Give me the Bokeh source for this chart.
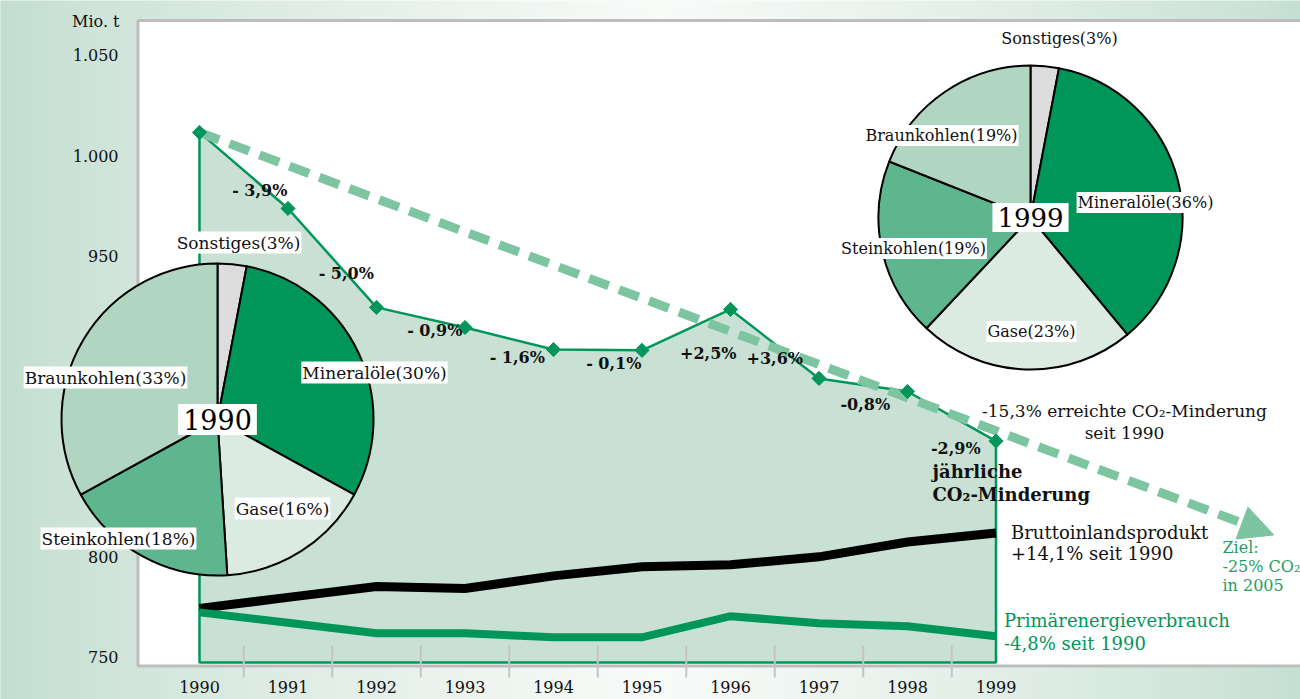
import numpy as np
from bokeh.plotting import figure
from bokeh.models import Range1d, Arrow, NormalHead
from bokeh.core.properties import value
from bokeh.embed import file_html
from bokeh.resources import INLINE

# ---------------- data ----------------
years = [1990, 1991, 1992, 1993, 1994, 1995, 1996, 1997, 1998, 1999]
co2 = [1011.6, 973.7, 924.4, 914.4, 903.4, 903.0, 923.4, 889.0, 882.5, 857.8]
gdp = [774.4, 779.9, 785.3, 784.3, 790.6, 795.1, 796.1, 800.1, 807.5, 812.0]
pev = [772.4, 767.2, 762.0, 762.0, 760.0, 760.0, 770.5, 767.0, 765.5, 760.5]
change_labels = ["- 3,9%", "- 5,0%", "- 0,9%", "- 1,6%", "- 0,1%",
                 "+2,5%", "+3,6%", "-0,8%", "-2,9%"]
y_ticks = [750, 800, 850, 900, 950, 1000, 1050]
y_tick_labels = ["750", "800", "850", "900", "950", "1.000", "1.050"]
year_labels = [str(y) for y in years]
pie_categories = ["Sonstiges", "Mineralöle", "Gase", "Steinkohlen", "Braunkohlen"]
shares_1990 = [3, 30, 16, 18, 33]
shares_1999 = [3, 36, 23, 19, 19]
target_tip = [2002.14, 811.0]   # tip of the "Ziel" arrow

# ---------------- layout helpers (picture pixels -> data) ----------------
PX_YEAR = 88.5
PX_1990 = 199.0
PX_UNIT = 2.0066
PY_ZERO = 2161.8
W, H = 1300, 699


def X(px):
    return 1990 + (px - PX_1990) / PX_YEAR


def Y(py):
    return (PY_ZERO - py) / PX_UNIT


def PXof(x):
    return PX_1990 + (x - 1990) * PX_YEAR


def PYof(y):
    return PY_ZERO - y * PX_UNIT


FONT = value("DejaVu Serif")
DARK_GREEN = "#00965a"
TXT = "#111111"

p = figure(width=W, height=H, output_backend="svg", toolbar_location=None,
           x_range=Range1d(X(0), X(W)), y_range=Range1d(Y(H), Y(0)),
           x_axis_type=None, y_axis_type=None, min_border=0,
           outline_line_color=None, background_fill_color="white",
           border_fill_color="white")
p.grid.visible = False

# ---------------- background gradient ----------------
green = np.array([194, 221, 208])
white = np.array([249, 251, 249])
n = 130
edges = np.linspace(0, W, n + 1)
lefts, rights, cols = [], [], []
for i in range(n):
    xc = 0.5 * (edges[i] + edges[i + 1])
    t = max(0.0, 1 - abs(xc - 660) / 660) ** 0.8
    c = green + (white - green) * t
    lefts.append(X(edges[i]))
    rights.append(X(edges[i + 1]))
    cols.append("#%02x%02x%02x" % tuple(int(round(v)) for v in c))
p.quad(left=lefts, right=rights, top=Y(-10), bottom=Y(H + 20), fill_color=cols,
       line_color=cols, line_width=1)

# plot frame
p.quad(left=X(137.5), right=X(W + 20), top=Y(20), bottom=Y(665.5),
       fill_color="white", line_color="#bdbdbd", line_width=3)

# y tick labels
p.text(x=[X(118)] * len(y_ticks), y=y_ticks, text=y_tick_labels,
       text_align="right", text_baseline="middle", text_font=FONT,
       text_font_size="16px", text_color=TXT)
p.text(x=[X(119)], y=[Y(21)], text=["Mio. t"], text_align="right",
       text_baseline="middle", text_font=FONT, text_font_size="16px", text_color=TXT)

# ---------------- CO2 area ----------------
base = Y(662)
p.patch([years[0]] + years + [years[-1]], [base] + co2 + [base],
        fill_color="#c8e1d4", line_color=DARK_GREEN, line_width=2.5)

# half-year ticks
half = [y + 0.5 for y in years[:-1]]
p.segment(x0=half, x1=half, y0=[Y(645)] * len(half), y1=[Y(677)] * len(half),
          line_color="#c4c4c4", line_width=2)

# GDP and primary energy lines
p.line(years, gdp, line_color="black", line_width=9, line_join="miter")
p.line(years, pev, line_color=DARK_GREEN, line_width=8, line_join="miter")

# ---------------- pies ----------------
pie_colors = ["#dcdcdc", DARK_GREEN, "#dcebe1", "#5eb68f", "#b0d6c1"]


def draw_pie(cx, cy, r, shares, label_pos, fsize, year_text, year_size):
    cum = np.cumsum([0] + shares) / 100.0
    start = np.pi / 2 - 2 * np.pi * cum[:-1]
    end = np.pi / 2 - 2 * np.pi * cum[1:]
    p.wedge(x=[X(cx)] * len(shares), y=[Y(cy)] * len(shares), radius=r,
            radius_units="screen", start_angle=list(start), end_angle=list(end),
            direction="clock", fill_color=pie_colors, line_color="black",
            line_width=2)
    texts = ["%s(%d%%)" % (c, s) for c, s in zip(pie_categories, shares)]
    p.text(x=[X(cx + dx) for dx, dy in label_pos], y=[Y(cy + dy) for dx, dy in label_pos],
           text=texts, text_align="center", text_baseline="middle",
           text_font=FONT, text_font_size=fsize, text_color=TXT,
           background_fill_color="white", padding=1)
    p.text(x=[X(cx)], y=[Y(cy)], text=[year_text], text_align="center",
           text_baseline="middle", text_font=FONT, text_font_size=year_size,
           text_color="black", background_fill_color="white", padding=5)


# label offsets (px) from pie centre for: Sonstiges, Mineralöle, Gase, Steinkohlen, Braunkohlen
draw_pie(217, 419, 156, shares_1990,
         [(21, -177), (157, -47), (65, 89), (-99, 119), (-112, -42)],
         "17px", "1990", "27px")
draw_pie(1030, 217, 152, shares_1999,
         [(29, -179), (115, -15), (1, 114), (-117, 31), (-89, -82)],
         "16px", "1999", "26px")

# ---------------- target arrow ----------------
sx, sy = PXof(years[0]), PYof(co2[0])
tx, ty = PXof(target_tip[0]), PYof(target_tip[1])
d = np.hypot(tx - sx, ty - sy)
ux, uy = (tx - sx) / d, (ty - sy) / d
bx, by = tx - 32 * ux, ty - 32 * uy
ARROW = "#7dc4a0"
p.line([years[0], X(bx)], [co2[0], Y(by)], line_color=ARROW, line_width=9,
       line_dash="21 11")
p.add_layout(Arrow(end=NormalHead(size=34, fill_color=ARROW, line_color=ARROW, line_width=1),
                   x_start=X(bx), y_start=Y(by), x_end=target_tip[0], y_end=target_tip[1],
                   line_alpha=0))

# markers
p.scatter(years, co2, marker="square", size=10, angle=np.pi / 4,
          fill_color=DARK_GREEN, line_color=DARK_GREEN)

# ---------------- yearly change labels ----------------
label_dx = [16, 14, 14, 8, 16, 22, 0, 2, 4]
label_dy = [20, 16, 13, 19, 14, 24, 15, 20, 32]
lx, ly = [], []
for k in range(len(change_labels)):
    mx = 0.5 * (PXof(years[k]) + PXof(years[k + 1]))
    my = 0.5 * (PYof(co2[k]) + PYof(co2[k + 1]))
    lx.append(X(mx + label_dx[k]))
    ly.append(Y(my + label_dy[k]))
p.text(x=lx, y=ly, text=change_labels, text_align="center", text_baseline="middle",
       text_font=FONT, text_font_size="16px", text_font_style="bold", text_color=TXT)

# annotation texts
ex, ey = PXof(years[-1]), PYof(co2[-1])
p.text(x=[X(932)] * 2, y=[Y(ey + 30), Y(ey + 53)],
       text=["jährliche", "CO₂-Minderung"], text_align="left", text_baseline="middle",
       text_font=FONT, text_font_size="18px", text_font_style="bold", text_color=TXT)

p.text(x=[X(1124)] * 2, y=[Y(410), Y(432)],
       text=["-15,3% erreichte CO₂-Minderung", "seit 1990"], text_align="center",
       text_baseline="middle", text_font=FONT, text_font_size="17px", text_color=TXT)

gx, gy = PXof(years[-1]), PYof(gdp[-1])
p.text(x=[X(gx + 15)] * 2, y=[Y(gy), Y(gy + 21)],
       text=["Bruttoinlandsprodukt", "+14,1% seit 1990"], text_align="left",
       text_baseline="middle", text_font=FONT, text_font_size="18px", text_color=TXT)

qx, qy = PXof(years[-1]), PYof(pev[-1])
p.text(x=[X(qx + 8)] * 2, y=[Y(qy - 16), Y(qy + 7)],
       text=["Primärenergieverbrauch", "-4,8% seit 1990"], text_align="left",
       text_baseline="middle", text_font=FONT, text_font_size="18px", text_color=DARK_GREEN)

p.text(x=[X(1222)] * 3, y=[Y(547), Y(566), Y(585)],
       text=["Ziel:", "-25% CO₂", "in 2005"], text_align="left", text_baseline="middle",
       text_font=FONT, text_font_size="16px", text_color="#1f9e63")

# year labels
p.text(x=years, y=[Y(686)] * len(years), text=year_labels, text_align="center",
       text_baseline="middle", text_font=FONT, text_font_size="16px", text_color=TXT)

open("out.html", "w").write(file_html(p, INLINE))
